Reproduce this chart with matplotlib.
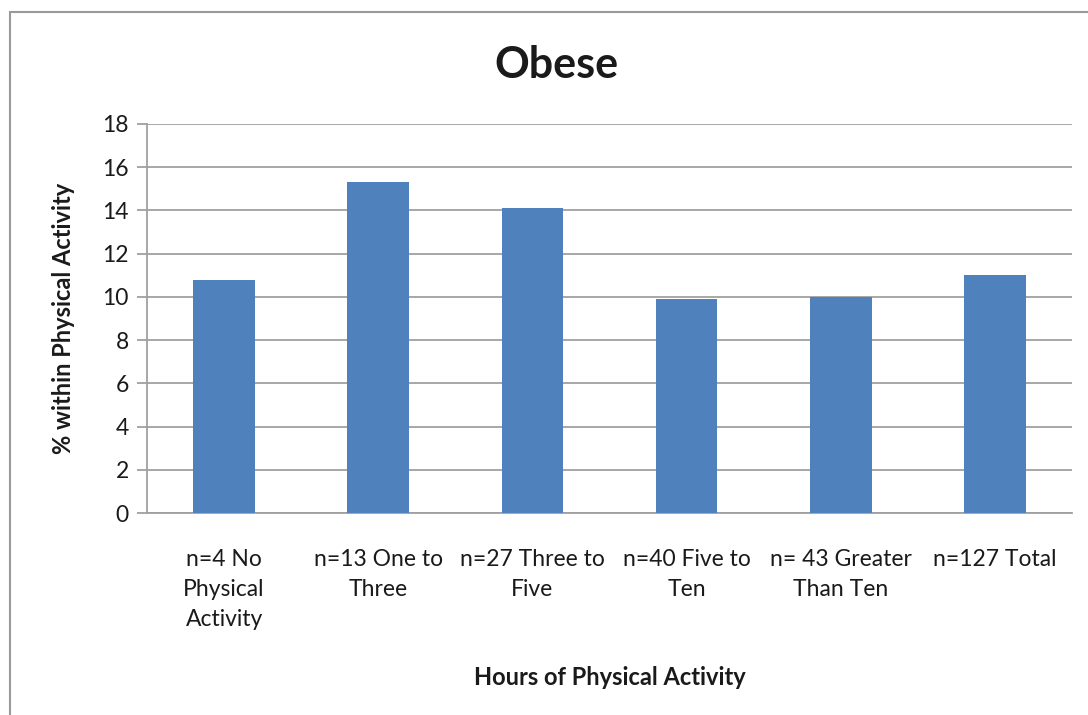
import matplotlib
matplotlib.use("Agg")
import matplotlib.pyplot as plt
import matplotlib.patches as patches
import numpy as np

plt.rcParams['font.family'] = ['Lato', 'DejaVu Sans']

# Data
categories = ["n=4 No\nPhysical\nActivity", "n=13 One to\nThree", "n=27 Three to\nFive",
              "n=40 Five to\nTen", "n= 43 Greater\nThan Ten", "n=127 Total"]
values = [10.8, 15.3, 14.1, 9.9, 10.0, 11.0]
yticks = [0, 2, 4, 6, 8, 10, 12, 14, 16, 18]

bar_color = "#4F81BD"
grid_color = "#A0A0A0"
text_color = "#1a1a1a"

fig = plt.figure(figsize=(10.88, 7.15), dpi=100)

# outer chart frame (clipped on right and bottom like the reference)
frame = patches.Rectangle((10 / 1088, -0.05), 1.2, (715 - 12) / 715 + 0.05,
                          transform=fig.transFigure, fill=False,
                          edgecolor="#9a9a9a", linewidth=1.5)
fig.patches.append(frame)

ax = fig.add_axes([147 / 1088, (715 - 513) / 715, (1072 - 147) / 1088, (513 - 124) / 715])

x = np.arange(len(categories))
ax.bar(x, values, width=0.4, color=bar_color, zorder=3)

ax.set_xlim(-0.5, len(categories) - 0.5)
ax.set_ylim(0, 18)
ax.set_yticks(yticks)
ax.yaxis.grid(True, color=grid_color, linewidth=1.3, zorder=0)
ax.set_axisbelow(True)

for s in ["top", "right"]:
    ax.spines[s].set_visible(False)
ax.spines["left"].set_color(grid_color)
ax.spines["left"].set_linewidth(1.3)
ax.spines["bottom"].set_color(grid_color)
ax.spines["bottom"].set_linewidth(1.3)

ax.tick_params(axis="y", direction="out", length=7, width=1.3, color=grid_color,
               labelsize=16.5, labelcolor=text_color, pad=6)
ax.set_xticks(x)
ax.set_xticklabels(categories, fontsize=16.5, color=text_color, linespacing=1.52)
ax.tick_params(axis="x", length=0, pad=26)

ax.set_ylabel("% within Physical Activity", fontsize=17, fontweight="bold",
              color=text_color, labelpad=20)
ax.set_xlabel("Hours of Physical Activity", fontsize=17, fontweight="bold",
              color=text_color, labelpad=26)

fig.text(556 / 1088, 1 - 65 / 715, "Obese", fontsize=31, fontweight="bold",
         color=text_color, ha="center", va="center")

fig.savefig("out.png", dpi=100)
